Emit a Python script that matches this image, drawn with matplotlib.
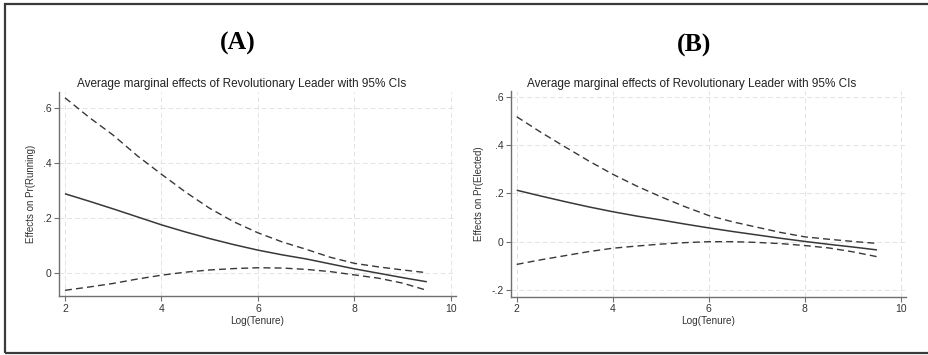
import matplotlib
matplotlib.use("Agg")
import matplotlib.pyplot as plt
from matplotlib.patches import Rectangle

# ---- data ----
tenure = [2, 2.5, 3, 3.5, 4, 4.5, 5, 5.5, 6, 6.5, 7, 7.5, 8, 8.5, 9, 9.5]

running_est = [0.287, 0.260, 0.232, 0.203, 0.174, 0.148, 0.124, 0.102,
               0.082, 0.065, 0.050, 0.032, 0.014, -0.002, -0.018, -0.033]
running_hi = [0.636, 0.565, 0.500, 0.425, 0.358, 0.293, 0.234, 0.185,
              0.145, 0.112, 0.085, 0.056, 0.034, 0.021, 0.010, 0.000]
running_lo = [-0.064, -0.052, -0.039, -0.023, -0.009, 0.002, 0.010, 0.015,
              0.018, 0.017, 0.012, 0.004, -0.008, -0.020, -0.038, -0.064]

elected_est = [0.213, 0.189, 0.166, 0.144, 0.124, 0.106, 0.090, 0.073,
               0.057, 0.042, 0.028, 0.014, 0.001, -0.011, -0.022, -0.034]
elected_hi = [0.517, 0.453, 0.393, 0.334, 0.279, 0.230, 0.186, 0.145,
              0.108, 0.082, 0.060, 0.038, 0.020, 0.010, 0.001, -0.007]
elected_lo = [-0.094, -0.075, -0.058, -0.041, -0.027, -0.018, -0.010, -0.004,
              0.000, 0.000, -0.003, -0.008, -0.016, -0.026, -0.042, -0.062]

x_ticks = [2, 4, 6, 8, 10]
x_ticklabels = ["2", "4", "6", "8", "10"]
yA_ticks = [0, 0.2, 0.4, 0.6]
yA_ticklabels = ["0", ".2", ".4", ".6"]
yB_ticks = [-0.2, 0, 0.2, 0.4, 0.6]
yB_ticklabels = ["-.2", "0", ".2", ".4", ".6"]

panel_titles = ["(A)", "(B)"]
subtitle = "Average marginal effects of Revolutionary Leader with 95% CIs"
xlabel = "Log(Tenure)"
ylabels = ["Effects on Pr(Running)", "Effects on Pr(Elected)"]

# ---- figure ----
W, H = 929, 355
fig = plt.figure(figsize=(W / 100, H / 100), dpi=100)
fig.patch.set_facecolor("white")

sans = ["Liberation Sans", "DejaVu Sans"]
serif = ["Liberation Serif", "DejaVu Serif"]

def fx(px):
    return px / W

def fy(py):
    return 1 - py / H

# outer border (right side falls off the canvas)
fig.add_artist(Rectangle((fx(5), fy(353)), fx(935) - fx(5), fy(4) - fy(353),
                         transform=fig.transFigure, fill=False,
                         edgecolor="#3a3a3a", linewidth=1.6, clip_on=False))

panels = [
    dict(rect=[fx(59), fy(296), fx(456) - fx(59), fy(92) - fy(296)],
         xlim=(1.876, 10.104), ylim=(-0.0847, 0.657),
         yt=yA_ticks, ytl=yA_ticklabels,
         est=running_est, hi=running_hi, lo=running_lo,
         title_xy=(238, 43), sub_xy=(242, 84), ylab=ylabels[0],
         ptitle=panel_titles[0]),
    dict(rect=[fx(511), fy(296.7), fx(905.7) - fx(511), fy(91) - fy(296.7)],
         xlim=(1.881, 10.098), ylim=(-0.2276, 0.6235),
         yt=yB_ticks, ytl=yB_ticklabels,
         est=elected_est, hi=elected_hi, lo=elected_lo,
         title_xy=(694, 45), sub_xy=(692, 84), ylab=ylabels[1],
         ptitle=panel_titles[1]),
]

line_col = "#383838"
axis_col = "#707070"
txt_col = "#333333"

for p in panels:
    ax = fig.add_axes(p["rect"])
    ax.set_xlim(*p["xlim"])
    ax.set_ylim(*p["ylim"])
    ax.set_xticks(x_ticks)
    ax.set_xticklabels(x_ticklabels, family=sans, fontsize=7.5, color=txt_col)
    ax.set_yticks(p["yt"])
    ax.set_yticklabels(p["ytl"], family=sans, fontsize=7.5, color=txt_col)
    ax.tick_params(axis="both", length=3.5, width=0.8, color=axis_col, pad=2)
    for s in ["top", "right"]:
        ax.spines[s].set_visible(False)
    for s in ["left", "bottom"]:
        ax.spines[s].set_color(axis_col)
        ax.spines[s].set_linewidth(1.0)
    ax.grid(True, color="#e3e3e3", linestyle=(0, (5, 3)), linewidth=0.7)
    ax.set_axisbelow(True)

    ax.plot(tenure, p["est"], color=line_col, linewidth=1.1, solid_capstyle="butt")
    ax.plot(tenure, p["hi"], color=line_col, linewidth=1.0, linestyle=(0, (5, 3)))
    ax.plot(tenure, p["lo"], color=line_col, linewidth=1.0, linestyle=(0, (5, 3)))

    ax.set_xlabel(xlabel, family=sans, fontsize=7.2, color=txt_col, labelpad=1.5)
    ax.set_ylabel(p["ylab"], family=sans, fontsize=7.0, color=txt_col, labelpad=5)

    tx, ty = p["title_xy"]
    fig.text(fx(tx), fy(ty), p["ptitle"], family=serif, fontweight="bold",
             fontsize=18.5, ha="center", va="center", color="black")
    sx, sy = p["sub_xy"]
    fig.text(fx(sx), fy(sy), subtitle, family=sans, fontsize=8.5,
             ha="center", va="center", color="#222222")

fig.savefig("out.png", dpi=100, facecolor="white")
